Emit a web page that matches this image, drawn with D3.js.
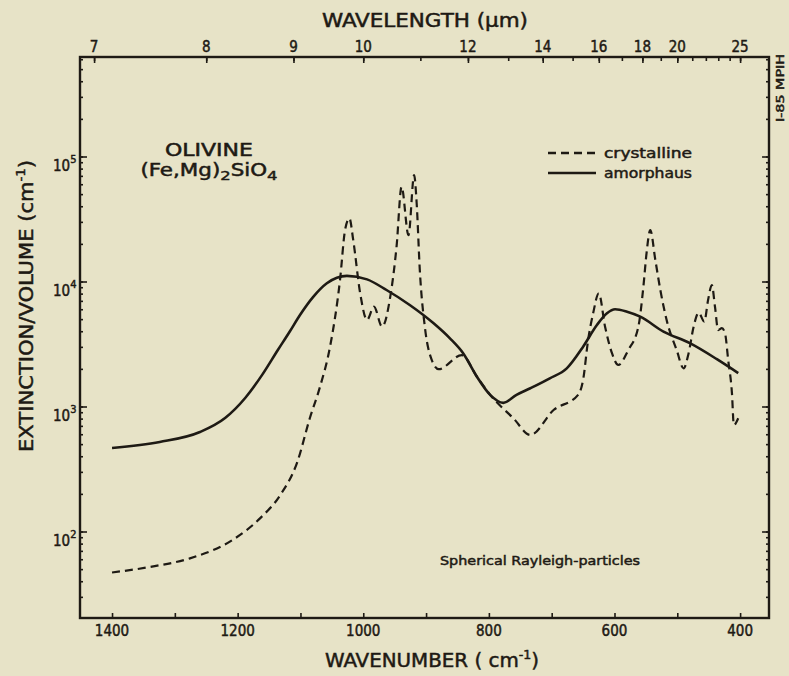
<!DOCTYPE html>
<html><head><meta charset="utf-8">
<script src="https://cdn.jsdelivr.net/npm/d3@7/dist/d3.min.js"></script>
<style>
html,body{margin:0;padding:0;background:#e7e3c7;}
svg{display:block;}
text{font-family:"DejaVu Sans Condensed","DejaVu Sans","Liberation Sans Narrow",sans-serif;fill:#1e1a14;stroke:#1e1a14;stroke-width:0.45;}
</style></head>
<body>
<svg id="chart" width="789" height="676"></svg>
<script>
// ---------- data ----------
const wavenumberTicks = [1400, 1300, 1200, 1100, 1000, 900, 800, 700, 600, 500, 400];
const wavenumberLabels = [1400, 1200, 1000, 800, 600, 400];
const wavelengthTicks = [7, 8, 9, 10, 11, 12, 13, 14, 15, 16, 17, 18, 19, 20, 21, 22, 23, 24, 25];
const wavelengthLabels = [7, 8, 9, 10, 12, 14, 16, 18, 20, 25];
const decadeExponents = [2, 3, 4, 5];

const crystallineNu = [1400, 1340, 1276, 1209, 1164, 1132, 1105, 1085, 1069, 1053, 1037, 1029, 1022, 1016, 1005, 994, 983, 970, 957, 947, 939, 928, 919, 915, 910, 902, 891, 880, 843, 819, 798, 761, 734, 697, 658, 650, 642, 634, 625, 615, 604, 594, 578, 562, 554, 549, 543, 535, 527, 517, 501, 490, 482, 474, 466, 457, 451, 445, 440, 435, 429, 424, 419, 413, 410, 403];
const crystallineVal = [47, 52, 61, 85, 128, 196, 360, 809, 1430, 2990, 10300, 25800, 32000, 21500, 8090, 4920, 6290, 4350, 7560, 19000, 57300, 23500, 71100, 42500, 12400, 4350, 2360, 1990, 2580, 1730, 1240, 805, 592, 937, 1240, 1630, 3400, 5570, 8050, 4350, 2670, 2150, 2830, 4350, 9090, 16800, 25800, 14900, 8550, 4920, 2830, 2020, 2670, 4350, 5630, 4770, 7110, 9380, 6280, 4090, 4230, 3850, 2360, 1280, 711, 805];

const amorphousNu = [1400, 1324, 1260, 1220, 1188, 1161, 1136, 1117, 1101, 1080, 1058, 1026, 994, 963, 926, 888, 862, 841, 819, 798, 777, 756, 734, 703, 676, 650, 628, 612, 599, 580, 559, 522, 480, 437, 403];
const amorphousVal = [466, 520, 625, 809, 1170, 1790, 2830, 3980, 5370, 7500, 9680, 11100, 10400, 8550, 6490, 4630, 3510, 2670, 1730, 1240, 1070, 1240, 1400, 1680, 2020, 3010, 4490, 5570, 6000, 5730, 5230, 3970, 3210, 2390, 1850];

// ---------- layout ----------
const svg = d3.select("#chart");
const L = 80, R = 769, T = 57, B = 618;
const ink = "#1e1a14";

const x = d3.scaleLinear().domain([1451, 354]).range([L, R]);
const y = d3.scaleLog().domain([Math.pow(10, 1.308), Math.pow(10, 5.796)]).range([B, T]);

const logTicks = [];
for (let e = 1; e <= 5; e++) for (let m = 1; m <= 9; m++) {
  const v = m * Math.pow(10, e);
  if (v >= y.domain()[0] && v <= y.domain()[1]) logTicks.push(v);
}

function styleAxis(g) {
  g.select(".domain").remove();
  g.selectAll("line").attr("stroke", ink).attr("stroke-width", 1.6);
  g.selectAll("text").remove();
}

// bottom axis
svg.append("g").attr("transform", `translate(0,${B})`)
  .call(d3.axisBottom(x).tickValues(wavenumberTicks).tickSize(-5).tickSizeOuter(0))
  .call(styleAxis);
svg.append("g").selectAll("text").data(wavenumberLabels).join("text")
  .attr("x", d => x(d)).attr("y", 636).attr("text-anchor", "middle")
  .attr("font-size", 15).text(d => d);

// top axis (wavelength)
svg.append("g").attr("transform", `translate(0,${T})`)
  .call(d3.axisTop(x).tickValues(wavelengthTicks.map(l => 1e4 / l))
        .tickSize(-4).tickSizeOuter(0))
  .call(styleAxis);
svg.append("g").attr("transform", `translate(0,${T})`)
  .call(d3.axisTop(x).tickValues(wavelengthLabels.map(l => 1e4 / l))
        .tickSize(-6).tickSizeOuter(0))
  .call(styleAxis);
svg.append("g").selectAll("text").data(wavelengthLabels).join("text")
  .attr("x", d => x(1e4 / d)).attr("y", 52).attr("text-anchor", "middle")
  .attr("font-size", 15).text(d => d);

// left & right axes
[[d3.axisLeft, L], [d3.axisRight, R]].forEach(([fn, pos]) => {
  svg.append("g").attr("transform", `translate(${pos},0)`)
    .call(fn(y).tickValues(logTicks).tickSize(-3).tickSizeOuter(0))
    .call(styleAxis);
  svg.append("g").attr("transform", `translate(${pos},0)`)
    .call(fn(y).tickValues(decadeExponents.map(e => Math.pow(10, e))).tickSize(-7).tickSizeOuter(0))
    .call(styleAxis);
});

// frame
svg.append("rect").attr("x", L).attr("y", T).attr("width", R - L).attr("height", B - T)
  .attr("fill", "none").attr("stroke", ink).attr("stroke-width", 2.4);

// left tick labels 10^n
const lab = svg.append("g").selectAll("text").data(decadeExponents).join("text")
  .attr("x", 53).attr("y", d => y(Math.pow(10, d)) + 14)
  .attr("font-size", 15);
lab.append("tspan").text("10");
lab.append("tspan").attr("font-size", 11).attr("dy", -8).text(d => d);

// curves
const line = d3.line().x(d => x(d[0])).y(d => y(d[1])).curve(d3.curveMonotoneX);
const crys = crystallineNu.map((n, i) => [n, crystallineVal[i]]);
const amor = amorphousNu.map((n, i) => [n, amorphousVal[i]]);
svg.append("path").attr("d", line(amor)).attr("fill", "none")
  .attr("stroke", ink).attr("stroke-width", 2.6);
svg.append("path").attr("d", line(crys)).attr("fill", "none")
  .attr("stroke", ink).attr("stroke-width", 2.2).attr("stroke-dasharray", "8,5");

// titles
svg.append("text").attr("x", 425).attr("y", 27).attr("text-anchor", "middle")
  .attr("font-size", 19).attr("textLength", 206).attr("lengthAdjust", "spacingAndGlyphs")
  .text("WAVELENGTH (µm)");

const xt = svg.append("text").attr("x", 432).attr("y", 667).attr("text-anchor", "middle")
  .attr("font-size", 19).attr("textLength", 214).attr("lengthAdjust", "spacingAndGlyphs");
xt.append("tspan").text("WAVENUMBER ( cm");
xt.append("tspan").attr("font-size", 12).attr("dy", -8).text("-1");
xt.append("tspan").attr("dy", 8).text(")");

const yt = svg.append("text").attr("transform", "translate(33,306) rotate(-90)")
  .attr("text-anchor", "middle").attr("font-size", 19)
  .attr("textLength", 292).attr("lengthAdjust", "spacingAndGlyphs");
yt.append("tspan").text("EXTINCTION/VOLUME (cm");
yt.append("tspan").attr("font-size", 12).attr("dy", -8).text("-1");
yt.append("tspan").attr("dy", 8).text(")");

// annotation
svg.append("text").attr("x", 209).attr("y", 156).attr("text-anchor", "middle")
  .attr("font-size", 17).attr("textLength", 88).attr("lengthAdjust", "spacingAndGlyphs")
  .text("OLIVINE");
const f = svg.append("text").attr("x", 209).attr("y", 176).attr("text-anchor", "middle")
  .attr("font-size", 17).attr("textLength", 137).attr("lengthAdjust", "spacingAndGlyphs");
f.append("tspan").text("(Fe,Mg)");
f.append("tspan").attr("font-size", 13).attr("dy", 4).text("2");
f.append("tspan").attr("dy", -4).text("SiO");
f.append("tspan").attr("font-size", 13).attr("dy", 4).text("4");

svg.append("text").attr("x", 440).attr("y", 565).attr("font-size", 13)
  .attr("textLength", 200).attr("lengthAdjust", "spacingAndGlyphs")
  .text("Spherical Rayleigh-particles");

// legend
const legend = [["crystalline", "8,5", 153], ["amorphaus", null, 173]];
legend.forEach(([name, dash, ly]) => {
  svg.append("line").attr("x1", 548).attr("x2", 596).attr("y1", ly).attr("y2", ly)
    .attr("stroke", ink).attr("stroke-width", 2.4).attr("stroke-dasharray", dash);
  svg.append("text").attr("x", 604).attr("y", ly + 5).attr("font-size", 14)
    .attr("textLength", 88).attr("lengthAdjust", "spacingAndGlyphs").text(name);
});

// plate id
svg.append("text").attr("transform", "translate(784,88) rotate(-90)")
  .attr("text-anchor", "middle").attr("font-size", 11)
  .attr("textLength", 68).attr("lengthAdjust", "spacingAndGlyphs").text("I-85 MPIH");
</script>
</body></html>
